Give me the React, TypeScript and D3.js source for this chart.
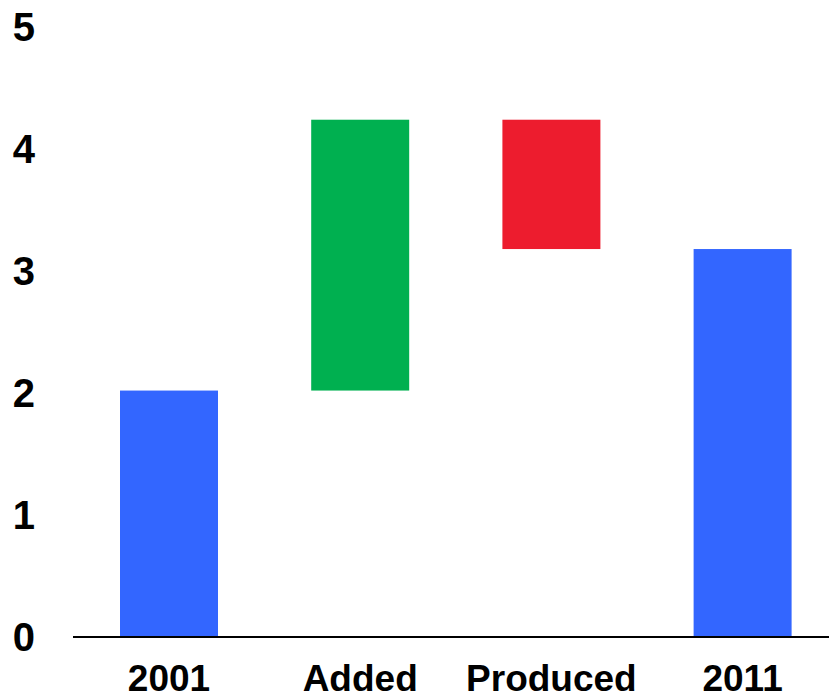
import React from "react";
import * as d3 from "d3";

// Waterfall steps: opening total, change in, change out, closing total
const categories = ["2001", "Added", "Produced", "2011"];
const values = [2.02, 2.22, -1.06, 3.18];
const kinds = ["total", "delta", "delta", "total"];
const yTicks = [0, 1, 2, 3, 4, 5];

const W = 829;
const H = 696;
const FONT = "'Liberation Sans', Arial, Helvetica, sans-serif";

export default function App() {
  const x = d3
    .scaleBand<string>()
    .domain(categories)
    .range([72.2, 839.4])
    .paddingInner(0.4875)
    .paddingOuter(0.25);
  const y = d3.scaleLinear().domain([0, 5]).range([637, 27]);

  // Build running start/end for each step
  let running = 0;
  const bars = categories.map((c, i) => {
    let y0: number;
    let y1: number;
    if (kinds[i] === "total") {
      y0 = 0;
      y1 = values[i];
      running = values[i];
    } else {
      y0 = running;
      y1 = running + values[i];
      running = y1;
    }
    const color =
      kinds[i] === "total" ? "#3366FF" : values[i] >= 0 ? "#00B050" : "#ED1C2E";
    return { c, lo: Math.min(y0, y1), hi: Math.max(y0, y1), color };
  });

  return (
    <svg
      width={W}
      height={H}
      style={{ position: "absolute", left: 0, top: 0, background: "#fff" }}
    >
      {bars.map((b) => (
        <rect
          key={b.c}
          x={x(b.c)}
          y={y(b.hi)}
          width={x.bandwidth()}
          height={y(b.lo) - y(b.hi)}
          fill={b.color}
        />
      ))}
      <line x1={73} x2={W} y1={y(0)} y2={y(0)} stroke="#000" strokeWidth={2} />
      {yTicks.map((t) => (
        <text
          key={t}
          x={35}
          y={y(t)}
          dy="0.36em"
          textAnchor="end"
          fontFamily={FONT}
          fontWeight="bold"
          fontSize={40}
          fill="#000"
        >
          {t}
        </text>
      ))}
      {categories.map((c) => (
        <text
          key={c}
          x={(x(c) as number) + x.bandwidth() / 2}
          y={691}
          textAnchor="middle"
          fontFamily={FONT}
          fontWeight="bold"
          fontSize={37}
          fill="#000"
        >
          {c}
        </text>
      ))}
    </svg>
  );
}
